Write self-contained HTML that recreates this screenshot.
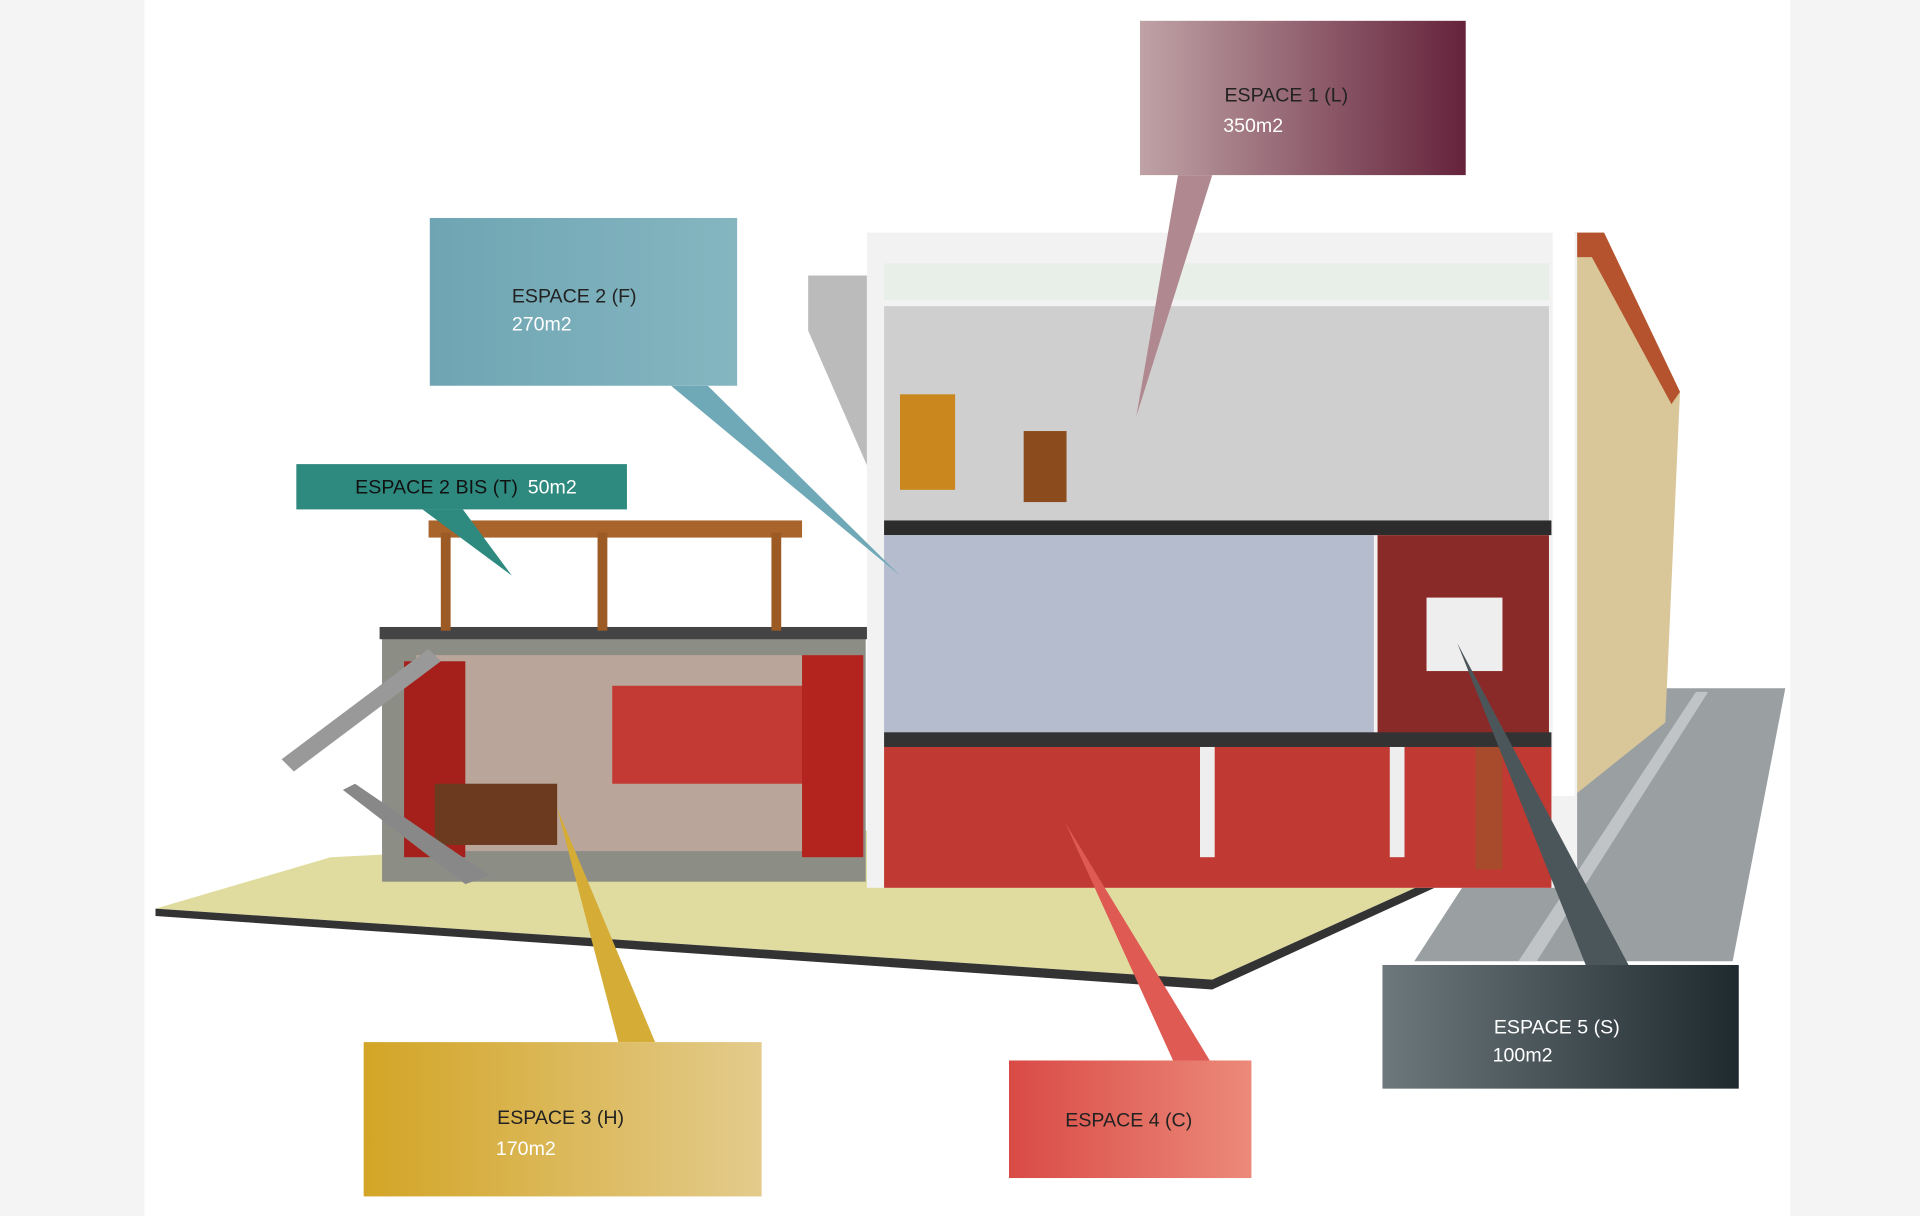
<!DOCTYPE html>
<html><head><meta charset="utf-8"><style>
html,body{margin:0;padding:0;background:#f4f4f4;}
svg{display:block}
text{font-family:"Liberation Sans",sans-serif;font-size:16px}
</style></head><body>
<svg width="1920" height="1216" viewBox="0 0 1568 993" preserveAspectRatio="none" xmlns="http://www.w3.org/2000/svg">
<defs>
<linearGradient id="g1" x1="0" x2="1"><stop offset="0" stop-color="#bfa2a6"/><stop offset="1" stop-color="#65233b"/></linearGradient>
<linearGradient id="g2" x1="0" x2="1"><stop offset="0" stop-color="#6fa5b3"/><stop offset="1" stop-color="#84b6c0"/></linearGradient>
<linearGradient id="g3" x1="0" x2="1"><stop offset="0" stop-color="#d3a526"/><stop offset="1" stop-color="#e3cb8c"/></linearGradient>
<linearGradient id="g4" x1="0" x2="1"><stop offset="0" stop-color="#d94a45"/><stop offset="1" stop-color="#ec8a7a"/></linearGradient>
<linearGradient id="g5" x1="0" x2="1"><stop offset="0" stop-color="#6d787c"/><stop offset="1" stop-color="#1f2a2f"/></linearGradient>
</defs>
<rect x="118" y="0" width="1344" height="993" fill="#fff"/>
<!-- road -->
<polygon points="1155,785 1300,562 1458,562 1415,785" fill="#9a9fa2"/>
<polygon points="1240,785 1385,565 1395,565 1255,785" fill="#c0c4c6"/>
<!-- ground plate -->
<polygon points="127,742 270,700 1280,650 1200,705 990,800" fill="#e0dca0"/>
<polygon points="127,742 990,800 1200,705 1200,712 990,808 127,748" fill="#333"/>
<!-- left annex -->
<rect x="312" y="520" width="395" height="200" fill="#8c8e86"/>
<rect x="340" y="535" width="360" height="160" fill="#b9a59a"/>
<rect x="500" y="560" width="170" height="80" fill="#c23a33"/>
<rect x="330" y="540" width="50" height="160" fill="#a6201b"/>
<rect x="655" y="535" width="50" height="165" fill="#b2241d"/>
<rect x="355" y="640" width="100" height="50" fill="#6b3a1f"/>
<rect x="310" y="512" width="400" height="10" fill="#444"/>
<polygon points="230,620 350,530 360,540 240,630" fill="#999"/>
<polygon points="290,640 400,715 380,722 280,645" fill="#888"/>
<!-- pergola -->
<rect x="350" y="425" width="305" height="14" fill="#a8642a"/>
<rect x="360" y="435" width="8" height="80" fill="#9c5a24"/>
<rect x="488" y="435" width="8" height="80" fill="#9c5a24"/>
<rect x="630" y="435" width="8" height="80" fill="#9c5a24"/>
<!-- stairs top left of main -->
<polygon points="660,225 708,225 708,380 660,270" fill="#bbb"/>
<!-- main building -->
<polygon points="1285,190 1310,190 1372,320 1360,590 1285,650" fill="#d9c79a"/>
<polygon points="1285,190 1310,190 1372,320 1365,330 1300,210 1285,210" fill="#b4532e"/>
<rect x="708" y="190" width="580" height="535" fill="#f2f2f2"/>
<rect x="722" y="215" width="543" height="30" fill="#e8efe8"/>
<rect x="722" y="250" width="543" height="175" fill="#cfcfcf"/>
<rect x="722" y="425" width="545" height="12" fill="#2c2c2c"/>
<rect x="722" y="437" width="400" height="163" fill="#b4bccd"/>
<rect x="1125" y="437" width="140" height="163" fill="#8a2a28"/>
<rect x="1165" y="488" width="62" height="60" fill="#eee"/>
<rect x="722" y="598" width="545" height="12" fill="#333"/>
<rect x="722" y="610" width="545" height="115" fill="#c03a33"/>
<rect x="980" y="610" width="12" height="90" fill="#eee"/>
<rect x="1135" y="610" width="12" height="90" fill="#eee"/>
<rect x="1205" y="610" width="22" height="100" fill="#a84a2c"/>
<rect x="735" y="322" width="45" height="78" fill="#c9871e"/>
<rect x="836" y="352" width="35" height="58" fill="#8b4b1c"/>
<rect x="1268" y="160" width="18" height="490" fill="#fff"/>
<!-- pointers -->
<polygon points="962,143 990,143 928,340" fill="#b08990"/>
<polygon points="548,315 578,315 735,470" fill="#6fa8b6"/>
<polygon points="345,416 378,416 418,470" fill="#2e8a7f"/>
<polygon points="505,851 535,851 455,660" fill="#d5ac36"/>
<polygon points="958,866 988,866 870,672" fill="#de5a52"/>
<polygon points="1295,788 1330,788 1190,525" fill="#4b565b"/>
<!-- boxes -->
<rect x="931" y="17" width="266" height="126" fill="url(#g1)"/>
<text x="1000" y="83" fill="#222">ESPACE 1 (L)</text><text x="999" y="108" fill="#fff">350m2</text>
<rect x="351" y="178" width="251" height="137" fill="url(#g2)"/>
<text x="418" y="247" fill="#222">ESPACE 2 (F)</text><text x="418" y="270" fill="#fff">270m2</text>
<rect x="242" y="379" width="270" height="37" fill="#2e8a7f"/>
<text x="290" y="403" fill="#111" textLength="133">ESPACE 2 BIS (T)</text><text x="431" y="403" fill="#fff">50m2</text>
<rect x="297" y="851" width="325" height="126" fill="url(#g3)"/>
<text x="406" y="918" fill="#222">ESPACE 3 (H)</text><text x="405" y="943" fill="#fff">170m2</text>
<rect x="824" y="866" width="198" height="96" fill="url(#g4)"/>
<text x="870" y="920" fill="#222">ESPACE 4 (C)</text>
<rect x="1129" y="788" width="291" height="101" fill="url(#g5)"/>
<text x="1220" y="844" fill="#fff">ESPACE 5 (S)</text><text x="1219" y="867" fill="#fff">100m2</text>
</svg>
</body></html>
